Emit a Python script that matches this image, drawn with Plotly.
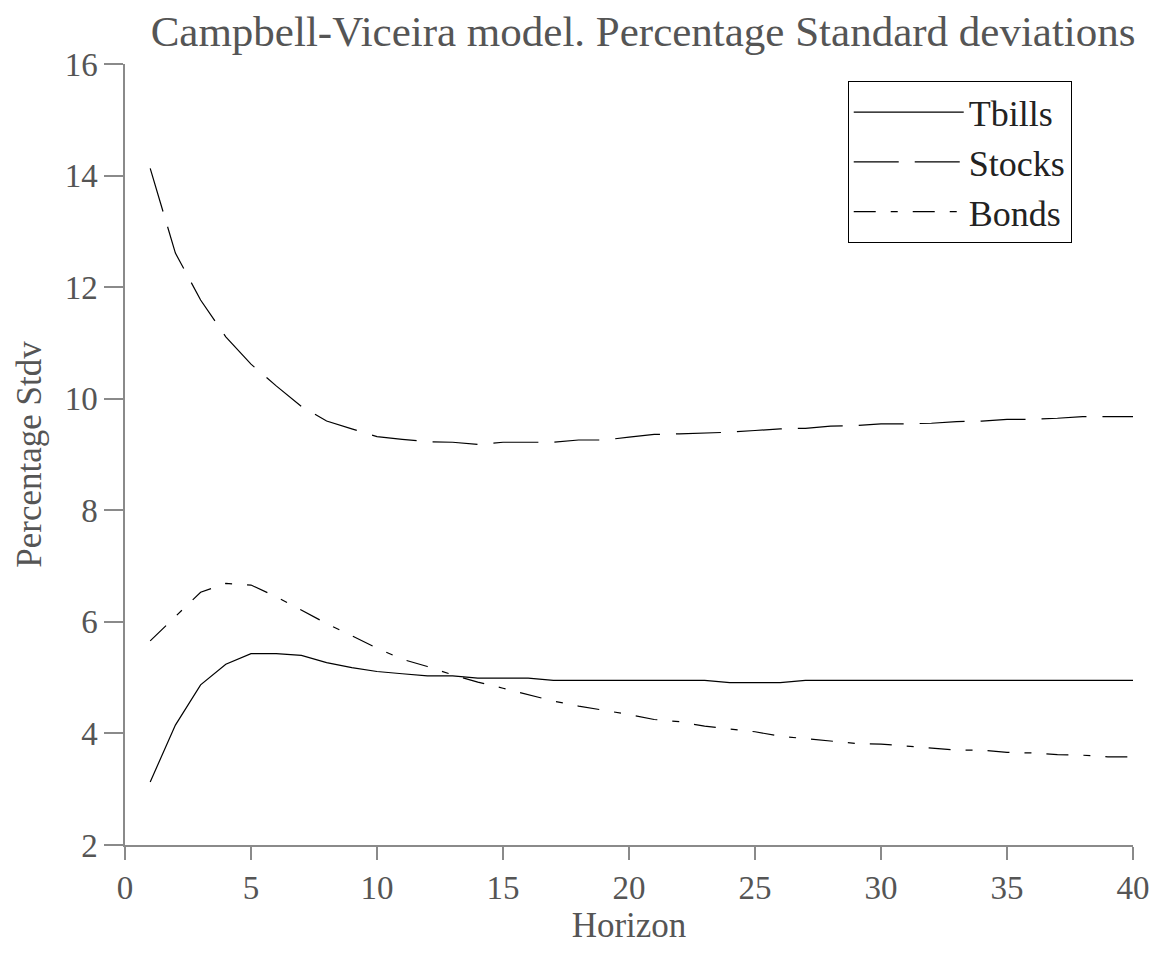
import plotly.graph_objects as go

horizon = list(range(1, 41))

tbills = [3.13, 4.15, 4.87, 5.24, 5.43, 5.43, 5.40, 5.27, 5.18, 5.11,
          5.07, 5.03, 5.03, 4.99, 4.99, 4.99, 4.95, 4.95, 4.95, 4.95,
          4.95, 4.95, 4.95, 4.91, 4.91, 4.91, 4.95, 4.95, 4.95, 4.95,
          4.95, 4.95, 4.95, 4.95, 4.95, 4.95, 4.95, 4.95, 4.95, 4.95]

stocks = [14.13, 12.61, 11.77, 11.11, 10.62, 10.23, 9.86, 9.60, 9.46, 9.32,
          9.27, 9.23, 9.22, 9.18, 9.22, 9.22, 9.22, 9.26, 9.26, 9.31,
          9.36, 9.37, 9.38, 9.40, 9.43, 9.46, 9.47, 9.51, 9.52, 9.55,
          9.55, 9.56, 9.59, 9.60, 9.63, 9.63, 9.65, 9.68, 9.68, 9.68]

bonds = [5.66, 6.09, 6.53, 6.69, 6.66, 6.45, 6.21, 5.97, 5.75, 5.53,
         5.33, 5.20, 5.05, 4.92, 4.81, 4.69, 4.58, 4.49, 4.42, 4.34,
         4.25, 4.21, 4.13, 4.08, 4.03, 3.95, 3.91, 3.86, 3.82, 3.81,
         3.77, 3.74, 3.70, 3.70, 3.66, 3.65, 3.62, 3.61, 3.58, 3.58]

x_ticks = [0, 5, 10, 15, 20, 25, 30, 35, 40]
y_ticks = [2, 4, 6, 8, 10, 12, 14, 16]

FONT = "Liberation Serif"
TXT = "#555555"
AX = "#8a8a8a"

fig = go.Figure()
fig.add_trace(go.Scatter(x=horizon, y=tbills, name="Tbills", mode="lines",
                         line=dict(color="black", width=1.2, dash="solid")))
fig.add_trace(go.Scatter(x=horizon, y=stocks, name="Stocks", mode="lines",
                         line=dict(color="black", width=1.2, dash="45px,16px")))
fig.add_trace(go.Scatter(x=horizon, y=bonds, name="Bonds", mode="lines",
                         line=dict(color="black", width=1.2, dash="22px,15px,7px,15px")))

fig.update_layout(
    width=1161, height=954,
    margin=dict(l=125, r=28, t=64, b=109),
    paper_bgcolor="white", plot_bgcolor="white",
    font=dict(family=FONT, color=TXT, size=32),
    title=dict(text="Campbell-Viceira model. Percentage Standard deviations",
               x=0.514, xanchor="center", y=0.968, yanchor="middle",
               xref="paper",
               font=dict(family=FONT, size=43, color=TXT)),
    showlegend=True,
    legend=dict(x=0.717, y=0.978, xanchor="left", yanchor="top",
                bordercolor="black", borderwidth=1, bgcolor="white",
                font=dict(family=FONT, size=36, color="#222"),
                itemwidth=110, tracegroupgap=0,
                traceorder="normal"),
    xaxis=dict(range=[0, 40], tickvals=x_ticks, ticktext=[str(v) for v in x_ticks],
               showgrid=False, zeroline=False, showline=True, linecolor=AX,
               linewidth=1.5, ticks="outside", ticklen=13, tickwidth=1.5, tickcolor=AX,
               tickfont=dict(family=FONT, size=33, color=TXT),
               title=dict(text="Horizon", font=dict(family=FONT, size=35, color=TXT), standoff=0)),
    yaxis=dict(range=[2, 16], tickvals=y_ticks, ticktext=[str(v) for v in y_ticks],
               showgrid=False, zeroline=False, showline=True, linecolor=AX,
               linewidth=1.5, ticks="outside", ticklen=19, tickwidth=1.5, tickcolor=AX,
               tickfont=dict(family=FONT, size=33, color=TXT),
               title=dict(text="Percentage Stdv", font=dict(family=FONT, size=35, color=TXT), standoff=12)),
)

fig.write_html("out.html")
